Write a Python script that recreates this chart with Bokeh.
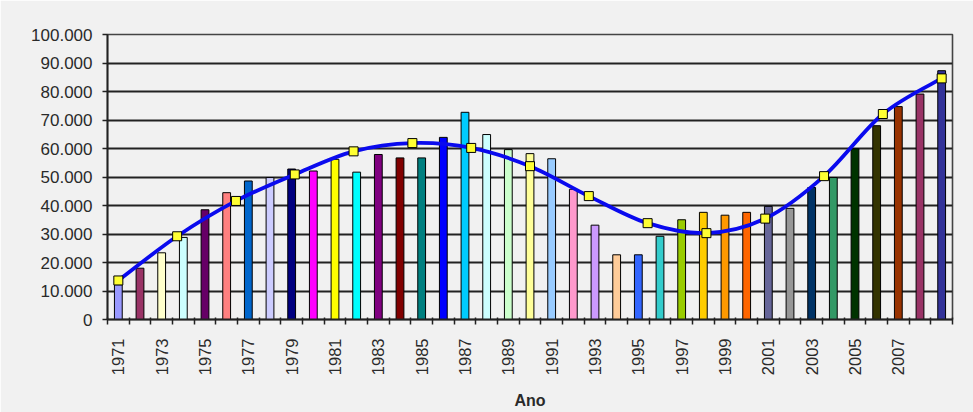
import numpy as np
from bokeh.plotting import figure
from bokeh.models import FixedTicker, ColumnDataSource
from bokeh.embed import file_html
from bokeh.resources import INLINE

years = list(range(1971, 2010))
values = [12200, 18000, 23400, 28800, 38500, 44500, 48600, 49800, 52800, 52100,
          56200, 51700, 57900, 56700, 56700, 63900, 72700, 64900, 59600, 58200,
          56400, 45700, 33100, 22700, 22700, 29200, 35000, 37600, 36600, 37600,
          39700, 39000, 46300, 49800, 59900, 68000, 74700, 79100, 87300]
bar_colors = ["#9999FF", "#993366", "#FFFFCC", "#CCFFFF", "#660066", "#FF8080", "#0066CC", "#CCCCFF",
              "#000080", "#FF00FF", "#FFFF00", "#00FFFF", "#800080", "#800000", "#008080", "#0000FF",
              "#00CCFF", "#CCFFFF", "#CCFFCC", "#FFFF99", "#99CCFF", "#FF99CC", "#CC99FF", "#FFCC99",
              "#3366FF", "#33CCCC", "#99CC00", "#FFCC00", "#FF9900", "#FF6600", "#666699", "#969696",
              "#003366", "#339966", "#003300", "#333300", "#993300", "#993366", "#333399"]
trend_values = [13700, 29200, 41600, 50900, 59000, 61900, 60200, 53800, 43300, 33800,
                30300, 35400, 50300, 72100, 84600]
y_ticks = [0, 10000, 20000, 30000, 40000, 50000, 60000, 70000, 80000, 90000, 100000]
y_labels = ["0", "10.000", "20.000", "30.000", "40.000", "50.000", "60.000", "70.000",
            "80.000", "90.000", "100.000"]

BG = "#f1f1f1"
FONT = "Liberation Sans"

p = figure(width=973, height=412, output_backend="svg", toolbar_location=None,
           x_range=(0.5, len(years) + 0.5), y_range=(0, 100000),
           min_border_left=107, min_border_right=21, min_border_top=34, min_border_bottom=91)
p.background_fill_color = BG
p.border_fill_color = BG
p.outline_line_color = "#444444"
p.outline_line_width = 1.6

xpos = np.arange(1, len(years) + 1)
src = ColumnDataSource(dict(x=xpos, top=values, color=bar_colors))
p.vbar(x="x", top="top", width=0.36, fill_color="color", line_color="black", line_width=1, source=src)

# smooth trend line (secondary category series spread over same width)
tx = np.linspace(1, len(years), len(trend_values))
ty = np.array(trend_values, dtype=float)
n = len(tx)
x0, y0, x1, y1, cx0, cy0, cx1, cy1 = [], [], [], [], [], [], [], []
for i in range(n - 1):
    pm = max(i - 1, 0)
    pp = min(i + 2, n - 1)
    x0.append(tx[i]); y0.append(ty[i]); x1.append(tx[i + 1]); y1.append(ty[i + 1])
    cx0.append(tx[i] + (tx[i + 1] - tx[pm]) / 6); cy0.append(ty[i] + (ty[i + 1] - ty[pm]) / 6)
    cx1.append(tx[i + 1] - (tx[pp] - tx[i]) / 6); cy1.append(ty[i + 1] - (ty[pp] - ty[i]) / 6)
p.bezier(x0=x0, y0=y0, x1=x1, y1=y1, cx0=cx0, cy0=cy0, cx1=cx1, cy1=cy1,
         line_color="#0a0aee", line_width=3.8)
p.scatter(tx, ty, marker="square", size=9, fill_color="#ffff33", line_color="black", line_width=1)

# grid
p.xgrid.visible = False
p.ygrid.grid_line_color = "#222222"
p.ygrid.grid_line_width = 1.8
p.ygrid.ticker = FixedTicker(ticks=y_ticks)

# y axis
p.yaxis.ticker = FixedTicker(ticks=y_ticks)
p.yaxis.major_label_overrides = {t: l for t, l in zip(y_ticks, y_labels)}
p.yaxis.major_tick_out = 5
p.yaxis.major_tick_in = 0
p.yaxis.minor_tick_line_color = None
p.yaxis.axis_line_color = "#222222"
p.yaxis.axis_line_width = 1.8
p.yaxis.major_tick_line_color = "#222222"
p.yaxis.major_tick_line_width = 1.5
p.yaxis.major_label_text_font = FONT
p.yaxis.major_label_text_font_size = "17px"
p.yaxis.major_label_text_color = "#2a2a2a"
p.yaxis.major_label_standoff = 10

# x axis
lab_pos = [int(v) for v in xpos[::2] if years[v - 1] <= 2007]
p.xaxis.ticker = FixedTicker(ticks=lab_pos, minor_ticks=list(np.arange(0.5, len(years) + 1, 1.0)))
p.xaxis.major_label_overrides = {int(v): str(years[v - 1]) for v in lab_pos}
p.xaxis.major_label_orientation = np.pi / 2
p.xaxis.major_tick_out = 0
p.xaxis.major_tick_in = 0
p.xaxis.minor_tick_out = 5
p.xaxis.minor_tick_in = 2
p.xaxis.minor_tick_line_color = "#222222"
p.xaxis.minor_tick_line_width = 1.5
p.xaxis.axis_line_color = "#222222"
p.xaxis.axis_line_width = 1.8
p.xaxis.major_label_text_font = FONT
p.xaxis.major_label_text_font_size = "16.5px"
p.xaxis.major_label_text_color = "#2a2a2a"
p.xaxis.major_label_standoff = 14
p.xaxis.axis_label = "Ano"
p.xaxis.axis_label_text_font = FONT
p.xaxis.axis_label_text_font_style = "bold"
p.xaxis.axis_label_text_font_size = "16px"
p.xaxis.axis_label_text_color = "#2a2a2a"
p.xaxis.axis_label_standoff = 14

open("out.html", "w").write(file_html(p, INLINE))
